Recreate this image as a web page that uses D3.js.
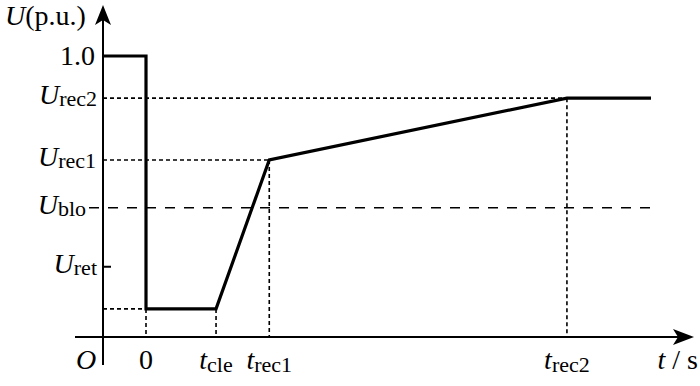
<!DOCTYPE html>
<html>
<head>
<meta charset="utf-8">
<script src="https://cdn.jsdelivr.net/npm/d3@7"></script>
<style>
  body { margin: 0; background: #fff; }
  text { font-family: "Liberation Serif", "Times New Roman", serif; fill: #000; }
</style>
</head>
<body>
<div id="chart"></div>
<script>
// ===== Chart data =====
const timeNames = ['0', 'cle', 'rec1', 'rec2'];     // subscripts of t (first one is plain "0")
const timeValues = [0, 1, 1.76, 6.01];
const voltageNames = ['rec2', 'rec1', 'blo', 'ret']; // subscripts of U
const voltageValues = [0.85, 0.63, 0.46, 0.25];
const faultVoltage = 0.1;
const curveT = [-0.614, 0, 0, 1, 1.76, 6.01, 7.21];
const curveU = [1.0, 1.0, 0.1, 0.1, 0.63, 0.85, 0.85];

const width = 700, height = 386;

const svg = d3.select('#chart')
  .append('svg')
  .attr('width', width)
  .attr('height', height);

const x = d3.scaleLinear().domain([-0.614, 7.81]).range([103, 693]);
const y = d3.scaleLinear().domain([0, 1]).range([337, 56]);

const x0 = x(-0.614);   // vertical axis position
const y0 = y(0);        // horizontal axis position

// ----- axes -----
svg.append('line')
  .attr('x1', x0).attr('x2', x0)
  .attr('y1', y0 + 28).attr('y2', 12)
  .attr('stroke', '#000').attr('stroke-width', 2);
svg.append('line')
  .attr('x1', x0 - 28).attr('x2', 684)
  .attr('y1', y0).attr('y2', y0)
  .attr('stroke', '#000').attr('stroke-width', 2);

// arrowheads
svg.append('path')
  .attr('d', `M${x0},5 L${x0 + 8},25 L${x0},20 L${x0 - 8},25 Z`)
  .attr('fill', '#000');
svg.append('path')
  .attr('d', `M694,${y0} L673,${y0 - 8} L678,${y0} L673,${y0 + 8} Z`)
  .attr('fill', '#000');

// ----- guide lines -----
const dotted = '4,3';
const pointAt = t => curveU[curveT.lastIndexOf(t)];

// horizontal dotted guides for Urec2, Urec1 and the fault level
[[voltageValues[0], timeValues[3]], [voltageValues[1], timeValues[2]], [faultVoltage, timeValues[0]]]
  .forEach(([u, t]) => {
    svg.append('line')
      .attr('x1', x0).attr('x2', x(t))
      .attr('y1', y(u)).attr('y2', y(u))
      .attr('stroke', '#000').attr('stroke-width', 1.6)
      .attr('stroke-dasharray', dotted);
  });

// vertical dotted guides down to the time axis
timeValues.forEach((t, i) => {
  const u = i === 0 ? faultVoltage : pointAt(t);
  svg.append('line')
    .attr('x1', x(t)).attr('x2', x(t))
    .attr('y1', y(u)).attr('y2', y0)
    .attr('stroke', '#000').attr('stroke-width', 1.6)
    .attr('stroke-dasharray', dotted);
});

// Ublo dashed threshold
svg.append('line')
  .attr('x1', x0 - 14).attr('x2', 656)
  .attr('y1', y(voltageValues[2])).attr('y2', y(voltageValues[2]))
  .attr('stroke', '#000').attr('stroke-width', 1.6)
  .attr('stroke-dasharray', '10,9');

// Uret tick
svg.append('line')
  .attr('x1', x0).attr('x2', x0 + 8)
  .attr('y1', y(voltageValues[3])).attr('y2', y(voltageValues[3]))
  .attr('stroke', '#000').attr('stroke-width', 2);

// ----- voltage curve -----
const line = d3.line()
  .x((d, i) => x(curveT[i]))
  .y(d => y(d));

svg.append('path')
  .datum(curveU)
  .attr('d', line)
  .attr('fill', 'none')
  .attr('stroke', '#000')
  .attr('stroke-width', 3.2)
  .attr('stroke-linejoin', 'miter');

// ----- labels -----
const main = 28, sub = 22;

function richLabel(px, py, base, subText, anchor, subDy) {
  const t = svg.append('text')
    .attr('x', px).attr('y', py)
    .attr('text-anchor', anchor)
    .attr('font-size', main);
  t.append('tspan').attr('font-style', 'italic').text(base);
  if (subText) {
    t.append('tspan').attr('font-size', sub).attr('dy', subDy).text(subText);
  }
  return t;
}

// y-axis title
const title = svg.append('text').attr('x', 5).attr('y', 25).attr('font-size', main);
title.append('tspan').attr('font-style', 'italic').text('U');
title.append('tspan').text('(p.u.)');

// 1.0
svg.append('text')
  .attr('x', 95).attr('y', y(1) + 9)
  .attr('text-anchor', 'end')
  .attr('font-size', main)
  .text('1.0');

const voltageRight = [97, 96, 86, 97];
voltageNames.forEach((n, i) => {
  richLabel(voltageRight[i], y(voltageValues[i]) + 6, 'U', n, 'end', 2);
});

// origin
svg.append('text')
  .attr('x', 76).attr('y', 369)
  .attr('font-size', main).attr('font-style', 'italic')
  .text('O');

// time labels
timeNames.forEach((n, i) => {
  if (i === 0) {
    svg.append('text')
      .attr('x', x(timeValues[i])).attr('y', 369)
      .attr('text-anchor', 'middle')
      .attr('font-size', main)
      .text(n);
  } else {
    richLabel(x(timeValues[i]), 369, 't', n, 'middle', 3);
  }
});

// t/s
const tl = svg.append('text').attr('x', 698).attr('y', 369)
  .attr('text-anchor', 'end').attr('font-size', main);
tl.append('tspan').attr('font-style', 'italic').text('t');
tl.append('tspan').text(' / s');
</script>
</body>
</html>
